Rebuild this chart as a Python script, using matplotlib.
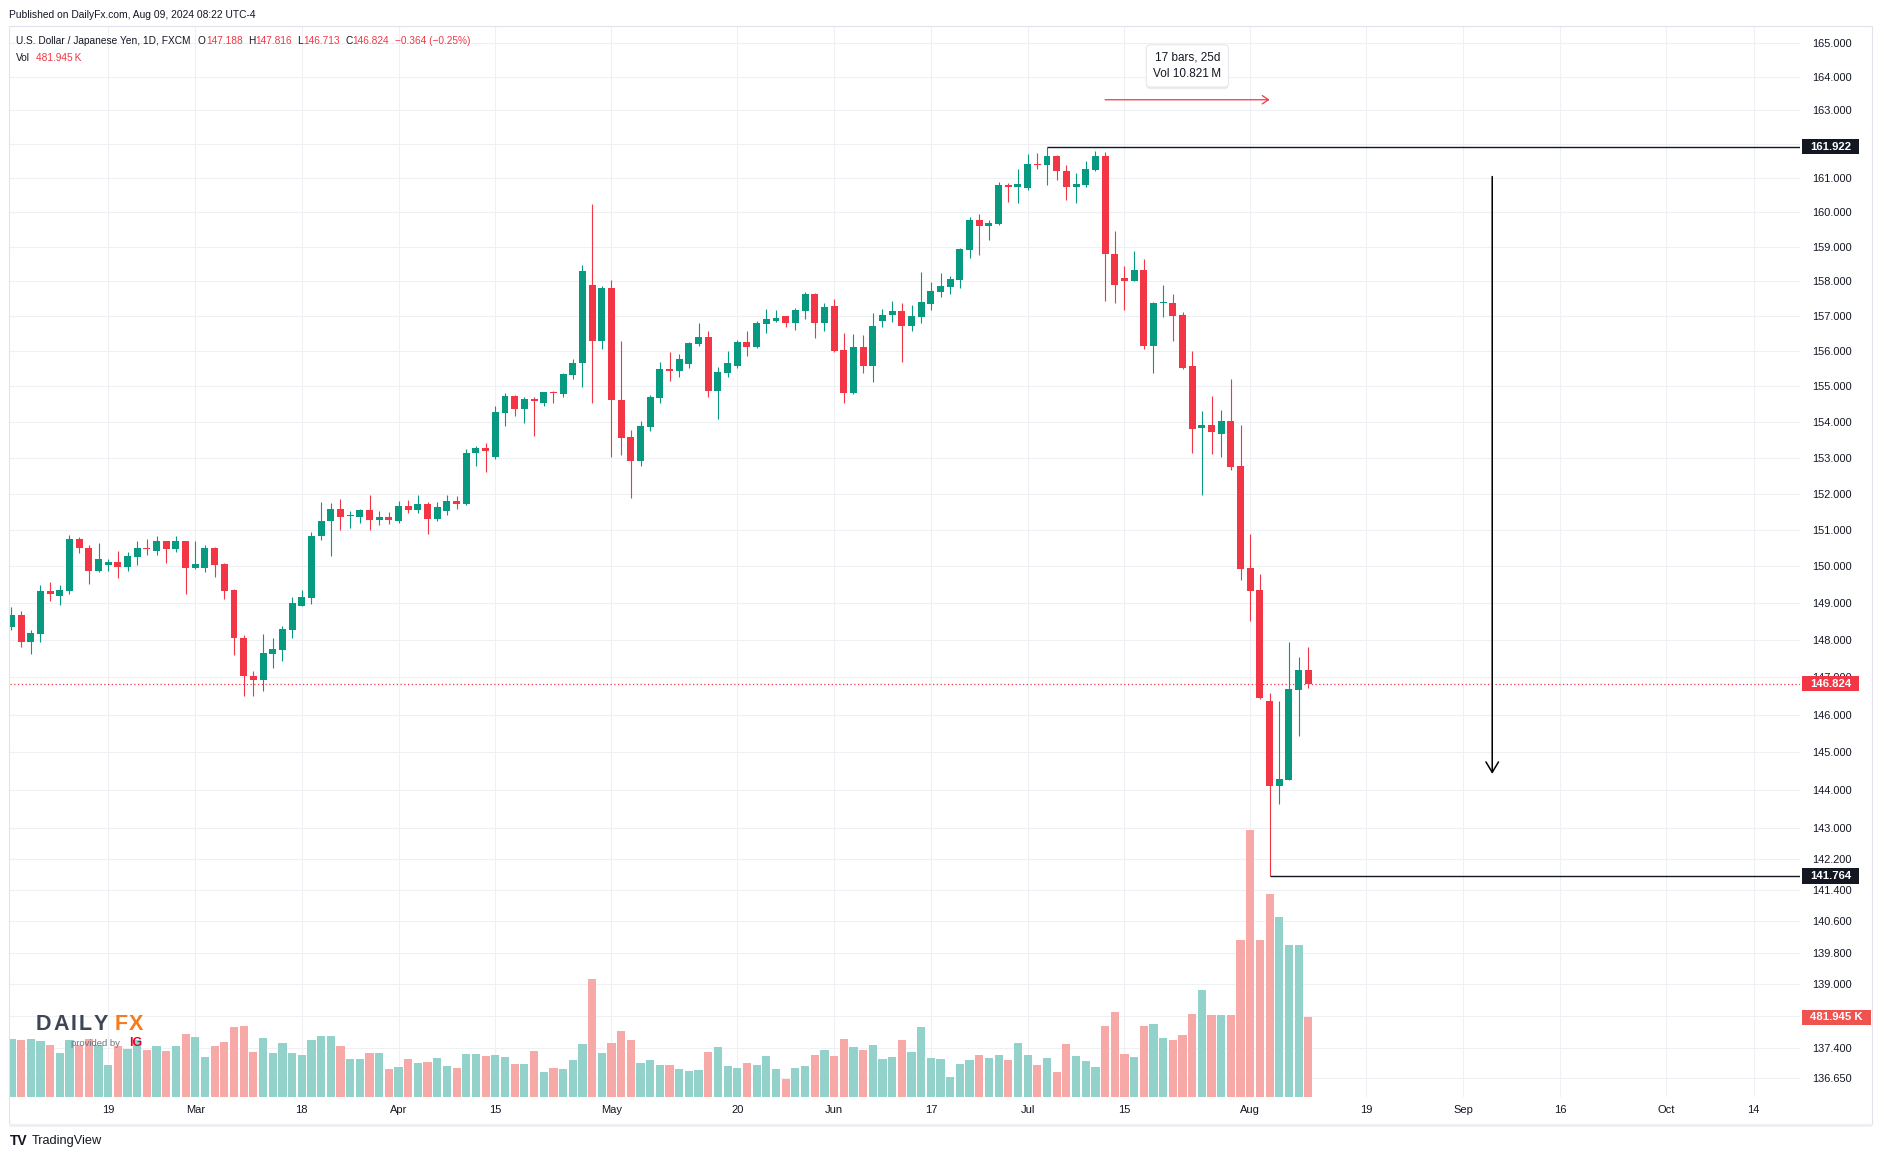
import matplotlib.pyplot as plt
import matplotlib.transforms as mtrans
import matplotlib.patheffects as pe
from matplotlib.patches import Rectangle
from matplotlib.ticker import NullLocator
import numpy as np
import pandas as pd

plt.rcParams['font.family'] = ['Liberation Sans', 'DejaVu Sans']

# USD/JPY daily bars (FXCM), one per weekday from 5 Feb to 9 Aug 2024
start_date = '2024-02-05'
opens = [148.36, 148.68, 147.93, 148.17, 149.32, 149.20, 149.33, 150.76, 150.51, 149.87,
         150.04, 150.11, 149.98, 150.25, 150.51, 150.43, 150.68, 150.46, 150.68, 149.95,
         149.95, 150.51, 150.05, 149.35, 148.05, 147.03, 146.93, 147.63, 147.74, 148.28,
         148.93, 149.14, 150.82, 151.23, 151.57, 151.37, 151.36, 151.54, 151.28, 151.35,
         151.23, 151.65, 151.54, 151.70, 151.31, 151.51, 151.79, 151.70, 153.12, 153.26,
         153.01, 154.25, 154.73, 154.36, 154.64, 154.53, 154.83, 154.78, 155.33, 155.65,
         157.90, 156.29, 157.81, 154.62, 153.57, 152.90, 153.85, 154.68, 155.49, 155.42,
         155.63, 156.20, 156.40, 154.87, 155.38, 155.58, 156.25, 156.11, 156.77, 156.87,
         156.99, 156.79, 157.14, 157.63, 156.79, 157.28, 156.03, 154.81, 156.11, 155.58,
         156.86, 157.02, 157.13, 156.71, 156.96, 157.35, 157.69, 157.84, 158.04, 158.90,
         159.78, 159.60, 159.66, 160.79, 160.73, 160.70, 161.41, 161.38, 161.64, 161.21,
         160.73, 160.79, 161.24, 161.64, 158.79, 158.10, 157.99, 158.33, 156.15, 157.37,
         157.37, 157.02, 155.57, 153.83, 153.90, 153.65, 154.01, 152.76, 149.96, 149.34,
         146.36, 144.12, 144.28, 146.65, 147.188]
highs = [148.90, 148.78, 148.27, 149.49, 149.57, 149.49, 150.87, 150.79, 150.57, 150.65,
         150.19, 150.43, 150.38, 150.68, 150.76, 150.84, 150.68, 150.84, 150.68, 150.70,
         150.57, 150.54, 150.08, 149.38, 148.14, 147.16, 148.16, 148.05, 148.38, 149.16,
         149.35, 150.95, 151.78, 151.73, 151.86, 151.51, 151.57, 151.97, 151.51, 151.49,
         151.79, 151.82, 151.95, 151.76, 151.76, 151.95, 151.93, 153.24, 153.32, 153.40,
         154.45, 154.82, 154.76, 154.70, 154.70, 154.83, 154.86, 155.39, 155.78, 158.47,
         160.24, 157.87, 158.02, 156.29, 153.76, 154.02, 154.76, 155.68, 155.97, 155.92,
         156.25, 156.80, 156.57, 155.55, 156.00, 156.31, 156.57, 156.85, 157.19, 157.16,
         156.99, 157.22, 157.69, 157.66, 157.36, 157.48, 156.51, 156.48, 156.45, 157.08,
         157.19, 157.43, 157.37, 157.31, 158.27, 157.98, 158.24, 158.15, 158.96, 159.86,
         159.95, 159.78, 160.88, 160.84, 161.27, 161.70, 161.73, 161.922, 161.67, 161.38,
         161.13, 161.50, 161.79, 161.76, 159.45, 158.44, 158.88, 158.65, 157.40, 157.89,
         157.63, 157.10, 156.00, 154.31, 154.74, 154.34, 155.20, 153.90, 150.89, 149.80,
         146.57, 146.36, 147.93, 147.55, 147.816]
lows = [148.28, 147.82, 147.63, 147.95, 149.04, 148.95, 149.25, 150.36, 149.52, 149.85,
        149.87, 149.68, 149.87, 150.04, 150.31, 150.31, 150.09, 150.38, 149.23, 149.92,
        149.85, 149.71, 149.12, 147.60, 146.50, 146.50, 146.63, 147.25, 147.44, 148.06,
        148.93, 148.98, 150.71, 150.28, 151.00, 151.04, 151.20, 151.00, 151.14, 151.17,
        151.20, 151.46, 151.46, 150.88, 151.25, 151.40, 151.56, 151.68, 152.76, 152.59,
        152.95, 153.88, 154.16, 153.96, 153.60, 154.45, 154.52, 154.69, 155.22, 154.99,
        154.53, 156.06, 153.01, 153.06, 151.87, 152.76, 153.75, 154.53, 155.16, 155.27,
        155.52, 156.14, 154.70, 154.08, 155.26, 155.53, 155.86, 156.08, 156.51, 156.82,
        156.68, 156.60, 156.91, 156.37, 156.57, 155.97, 154.53, 154.78, 155.38, 155.12,
        156.69, 156.82, 155.70, 156.56, 156.79, 157.17, 157.55, 157.63, 157.81, 158.67,
        158.75, 159.19, 159.63, 160.30, 160.27, 160.66, 161.27, 160.78, 160.95, 160.35,
        160.26, 160.73, 161.21, 157.43, 157.37, 157.17, 157.99, 156.06, 155.38, 156.97,
        156.29, 155.48, 153.13, 151.96, 153.10, 153.02, 152.66, 149.63, 148.51, 146.42,
        141.764, 143.63, 144.28, 145.43, 146.713]
closes = [148.68, 147.93, 148.19, 149.32, 149.23, 149.35, 150.76, 150.50, 149.87, 150.19,
          150.11, 149.98, 150.27, 150.51, 150.46, 150.68, 150.46, 150.68, 149.95, 150.05,
          150.51, 150.04, 149.33, 148.04, 147.04, 146.93, 147.65, 147.76, 148.30, 148.99,
          149.16, 150.84, 151.24, 151.57, 151.36, 151.40, 151.54, 151.28, 151.35, 151.28,
          151.65, 151.55, 151.70, 151.31, 151.62, 151.79, 151.70, 153.14, 153.26, 153.18,
          154.28, 154.73, 154.36, 154.64, 154.59, 154.83, 154.81, 155.36, 155.67, 158.30,
          156.29, 157.81, 154.60, 153.54, 152.90, 153.88, 154.70, 155.49, 155.42, 155.77,
          156.23, 156.40, 154.87, 155.41, 155.66, 156.25, 156.11, 156.79, 156.91, 156.95,
          156.79, 157.16, 157.63, 156.79, 157.25, 156.00, 154.81, 156.11, 155.58, 156.71,
          157.02, 157.13, 156.71, 157.00, 157.39, 157.72, 157.86, 158.07, 158.93, 159.78,
          159.60, 159.69, 160.79, 160.73, 160.83, 161.41, 161.38, 161.64, 161.19, 160.73,
          160.81, 161.27, 161.64, 158.77, 157.90, 157.99, 158.33, 156.15, 157.37, 157.40,
          157.00, 155.51, 153.81, 153.90, 153.71, 154.01, 152.74, 149.93, 149.32, 146.44,
          144.12, 144.30, 146.68, 147.20, 146.824]
# volume in thousands
volumes = [349, 343, 349, 337, 313, 266, 343, 313, 349, 313,
           192, 307, 292, 343, 282, 307, 276, 307, 379, 361,
           240, 307, 331, 423, 428, 270, 355, 264, 325, 264,
           252, 343, 367, 367, 307, 228, 228, 264, 264, 168,
           180, 228, 204, 210, 234, 186, 174, 258, 258, 246,
           252, 240, 198, 198, 276, 149, 174, 168, 222, 319,
           712, 264, 325, 397, 343, 204, 222, 192, 192, 168,
           155, 162, 270, 301, 186, 174, 204, 192, 246, 168,
           107, 174, 186, 252, 282, 246, 349, 301, 282, 313,
           228, 240, 343, 270, 422, 234, 228, 119, 198, 222,
           252, 234, 252, 222, 325, 252, 192, 234, 149, 319,
           246, 216, 180, 428, 512, 258, 240, 428, 440, 355,
           343, 373, 500, 645, 494, 494, 494, 950, 1615, 950,
           1228, 1089, 919, 919, 481.945]

tick_dates = ['2024-02-19', '2024-03-01', '2024-03-18', '2024-04-01', '2024-04-15',
              '2024-05-01', '2024-05-20', '2024-06-03', '2024-06-17', '2024-07-01',
              '2024-07-15', '2024-08-01', '2024-08-19', '2024-09-02', '2024-09-16',
              '2024-10-01', '2024-10-14']
tick_labels = ['19', 'Mar', '18', 'Apr', '15', 'May', '20', 'Jun', '17', 'Jul',
               '15', 'Aug', '19', 'Sep', '16', 'Oct', '14']
price_ticks = [165, 164, 163, 162, 161, 160, 159, 158, 157, 156, 155, 154, 153, 152,
               151, 150, 149, 148, 147, 146, 145, 144, 143, 142.2, 141.4, 140.6,
               139.8, 139.0, 138.2, 137.4, 136.65]
hidden_ticks = [162, 138.2]   # covered by the price tags in the original

# drawings on the chart
high_mark, high_idx = 161.922, 107
low_mark, low_idx = 141.764, 130
last_price = 146.824
last_vol = 481.945
range_from, range_to, range_level = 113, 130, 163.31
drop_idx, drop_top, drop_bottom = 153, 161.04, 144.43

UP, DN = '#089981', '#f23645'
VUP, VDN = '#92d2cb', '#f7a9a8'
GRID = '#eef0f4'
TXT = '#131722'

W, H = 1882, 1160
fig = plt.figure(figsize=(W / 100, H / 100), dpi=100)
fig.patch.set_facecolor('white')


def px(x, y):
    return x / W, 1 - y / H


pos = [10 / W, 1 - 1097 / H, 1790 / W, 1071 / H]
vax = fig.add_axes(pos)
ax = fig.add_axes(pos, sharex=vax)
ax.patch.set_visible(False)

dates = pd.bdate_range(start_date, periods=190)
x = np.arange(len(opens))
tick_pos = [dates.get_loc(pd.Timestamp(d)) for d in tick_dates]

o = np.array(opens)
c = np.array(closes)
up = c >= o

# volume overlay
vax.bar(x, volumes, width=0.85, color=np.where(up, VUP, VDN), linewidth=0, zorder=2)
vax.set_ylim(0, 6476)
vax.set_xlim(-0.145, 184.8)
vax.set_yticks([])
vax.tick_params(axis='x', length=0, labelbottom=False)
for s in vax.spines.values():
    s.set_visible(False)

# grid (drawn in the bottom axes so it stays behind everything)
for p in tick_pos:
    vax.axvline(p, color=GRID, lw=0.8, zorder=0)
htrans = mtrans.blended_transform_factory(vax.transAxes, ax.transData)
for p in price_ticks:
    vax.plot([0, 1], [p, p], transform=htrans, color=GRID, lw=0.8, zorder=0)

# candles
cols = np.where(up, UP, DN)
ax.vlines(x, lows, highs, colors=cols, lw=0.8, zorder=3)
ax.bar(x, np.maximum(np.abs(c - o), 0.03), bottom=np.minimum(o, c), width=0.72,
       color=cols, linewidth=0, zorder=4)

ax.set_yscale('log')
ax.set_ylim(136.17, 165.52)
ax.set_autoscale_on(False)
ax.set_yticks(price_ticks)
ax.set_yticklabels(['' if p in hidden_ticks else '%.3f' % p for p in price_ticks])
ax.yaxis.set_minor_locator(NullLocator())
ax.yaxis.tick_right()
ax.tick_params(axis='y', length=0, pad=9, labelsize=7.9, labelcolor=TXT)
ax.set_xticks(tick_pos)
ax.set_xticklabels(tick_labels)
ax.tick_params(axis='x', length=0, pad=5.5, labelsize=8, labelcolor=TXT)
for s in ax.spines.values():
    s.set_visible(False)

# last price line and drawings
ax.axhline(last_price, color=DN, lw=0.9, ls=(0, (1, 2)), zorder=2)
ax.hlines(high_mark, high_idx, 190, color=TXT, lw=1, zorder=5)
ax.hlines(low_mark, low_idx, 190, color=TXT, lw=1, zorder=5)
ax.annotate('', xy=(drop_idx, drop_bottom), xytext=(drop_idx, drop_top),
            arrowprops=dict(arrowstyle='->,head_length=0.75,head_width=0.45',
                            color='black', lw=1.1, shrinkA=0, shrinkB=0), zorder=5)
ax.annotate('', xy=(range_to, range_level), xytext=(range_from, range_level),
            arrowprops=dict(arrowstyle='->,head_length=0.45,head_width=0.3',
                            color=DN, lw=0.9, shrinkA=0, shrinkB=0), zorder=5)
tip = ax.text((range_from + range_to) / 2, 164.32, '17 bars, 25d\nVol 10.821\u2009M',
              ha='center', va='center', fontsize=8.5, color=TXT, linespacing=1.45, zorder=6,
              bbox=dict(boxstyle='round,pad=0.6,rounding_size=0.35', fc='white',
                        ec='#e6e8ee', lw=0.8))
tip.get_bbox_patch().set_path_effects([
    pe.SimplePatchShadow(offset=(0, -1.5), shadow_rgbFace='black', alpha=0.08),
    pe.Normal()])


def tag(value, text, fc, ytrans):
    # price-scale tag, drawn in the top axes so it covers the tick labels
    trans = mtrans.blended_transform_factory(ax.transAxes, ytrans)
    ax.text(1.00559, value, text, transform=trans, ha='left',
            va='center', fontsize=8.2, fontweight='bold', color='white',
            zorder=10, clip_on=False,
            bbox=dict(boxstyle='square,pad=0.7', fc=fc, ec='none', mutation_aspect=0.33))


tag(high_mark, '%.3f' % high_mark, TXT, ax.transData)
tag(low_mark, '%.3f' % low_mark, TXT, ax.transData)
tag(last_price, '%.3f' % last_price, DN, ax.transData)
tag(last_vol, '%.3f K' % last_vol, '#ef5350', vax.transData)

# header texts
fig.text(*px(9, 15), 'Published on DailyFx.com, Aug 09, 2024 08:22 UTC-4',
         fontsize=7.4, color=TXT, va='center')
hdr = [(16, 'U.S. Dollar / Japanese Yen, 1D, FXCM', TXT), (198, 'O', TXT),
       (206, '147.188', DN), (248, 'H', TXT), (255, '147.816', DN), (297, 'L', TXT),
       (303, '146.713', DN), (346, 'C', TXT), (352, '146.824', DN),
       (395, '\u22120.364 (\u22120.25%)', DN)]
for hx, s, col in hdr:
    fig.text(*px(hx, 41), s, fontsize=7.3, color=col, va='center')
fig.text(*px(16, 58), 'Vol', fontsize=7.3, color=TXT, va='center')
fig.text(*px(36, 58), '481.945\u2009K', fontsize=7.3, color=DN, va='center')

# frame
fig.add_artist(Rectangle(px(9, 1124), 1863 / W, 1098 / H, transform=fig.transFigure,
                         fill=False, ec='#e0e3eb', lw=0.8))
fig.add_artist(Rectangle(px(9, 1127), 1863 / W, 3 / H, transform=fig.transFigure,
                         fc='#eef0f4', ec='none'))

# logos
logo = [(43, 'D', '#3c4655'), (61, 'A', '#3c4655'), (74, 'I', '#3c4655'),
        (85, 'L', '#3c4655'), (101, 'Y', '#3c4655'), (121, 'F', '#f47c20'),
        (136, 'X', '#f47c20')]
for lx, letter, col in logo:
    fig.text(*px(lx, 1025), letter, fontsize=15.5, fontweight='bold', color=col,
             ha='center', va='center')
fig.text(*px(71, 1043), 'provided by', fontsize=6.8, color='#6b7280', va='center')
fig.text(*px(129, 1043), 'IG', fontsize=9, fontweight='bold', color='#e4002b',
         va='center')
fig.text(*px(10, 1141), 'TV', fontsize=10, fontweight='heavy', color=TXT, va='center')
fig.text(*px(32, 1141), 'TradingView', fontsize=9.2, color=TXT, va='center')

plt.savefig('out.png', dpi=100)
